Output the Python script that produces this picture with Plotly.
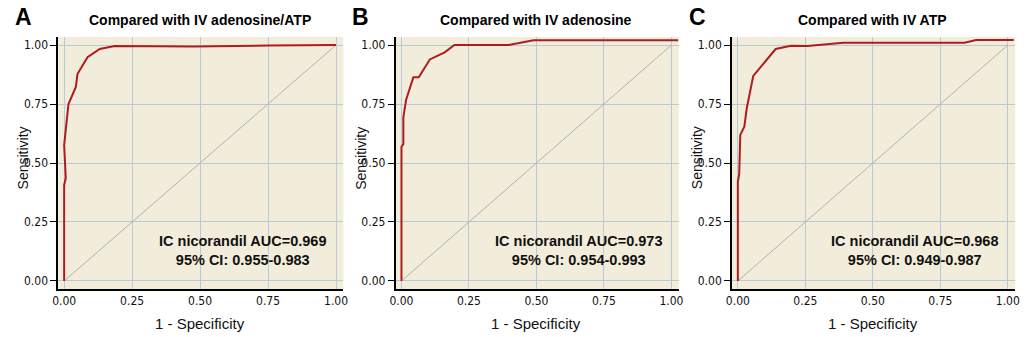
import plotly.graph_objects as go

# ---- data ----
panel_letters = ["A", "B", "C"]
titles = ["Compared with IV adenosine/ATP", "Compared with IV adenosine", "Compared with IV ATP"]
auc_text = ["IC nicorandil AUC=0.969<br>95% CI: 0.955-0.983",
            "IC nicorandil AUC=0.973<br>95% CI: 0.954-0.993",
            "IC nicorandil AUC=0.968<br>95% CI: 0.949-0.987"]

a_fpr = [0.0, 0.0, 0.006, 0.0, 0.016, 0.043, 0.049, 0.086, 0.131, 0.186, 0.33, 0.478, 0.75, 1.0]
a_tpr = [0.0, 0.407, 0.436, 0.576, 0.75, 0.822, 0.877, 0.948, 0.983, 0.996, 0.995, 0.994, 0.998, 1.0]

b_fpr = [0.0, 0.0, 0.007, 0.007, 0.017, 0.044, 0.064, 0.105, 0.16, 0.196, 0.397, 0.489, 1.025]
b_tpr = [0.0, 0.569, 0.58, 0.694, 0.767, 0.863, 0.863, 0.939, 0.969, 1.0, 1.0, 1.02, 1.02]

c_fpr = [0.0, 0.0, 0.005, 0.009, 0.024, 0.033, 0.057, 0.14, 0.197, 0.257, 0.391, 0.84, 0.882, 1.022]
c_tpr = [0.0, 0.42, 0.453, 0.619, 0.654, 0.732, 0.869, 0.983, 0.997, 0.996, 1.01, 1.01, 1.021, 1.021]

ref_x = [0, 1]
ref_y = [0, 1]

tick_vals = [0, 0.25, 0.5, 0.75, 1.0]
tick_text = ["0.00", "0.25", "0.50", "0.75", "1.00"]

# ---- style ----
W, H = 1033, 337
BG = "#f2eddb"
GRID = "#b9cad6"
CURVE = "#b01c1e"
COND = "'Liberation Sans Narrow', 'DejaVu Sans Condensed', 'Roboto Condensed', Roboto, 'Liberation Sans', sans-serif"
SANS = "'Liberation Sans', Arial, sans-serif"
x_domains = [[53 / W, 341 / W], [394 / W, 680 / W], [734 / W, 1020 / W]]
y_domain = [1 - 289 / H, 1 - 37 / H]

fig = go.Figure()
series = [(a_fpr, a_tpr), (b_fpr, b_tpr), (c_fpr, c_tpr)]
layout = {}
annotations = []
for i, (fx, fy) in enumerate(series):
    n = "" if i == 0 else str(i + 1)
    xa, ya = "x" + n, "y" + n
    fig.add_trace(go.Scatter(x=ref_x, y=ref_y, mode="lines", xaxis=xa, yaxis=ya,
                             line=dict(color="#b0b0b0", width=1), showlegend=False, hoverinfo="skip"))
    fig.add_trace(go.Scatter(x=fx, y=fy, mode="lines", xaxis=xa, yaxis=ya,
                             line=dict(color=CURVE, width=2), showlegend=False))
    layout["xaxis" + n] = dict(domain=x_domains[i], range=[-0.021, 1.027], anchor=ya,
                               tickvals=tick_vals, ticktext=tick_text, showgrid=True, gridcolor=GRID,
                               gridwidth=1, zeroline=False, showline=True, linecolor="black", linewidth=2,
                               ticks="", tickfont=dict(family=COND, size=12, color="#111"))
    layout["yaxis" + n] = dict(domain=y_domain, range=[-0.034, 1.034], anchor=xa,
                               tickvals=tick_vals, ticktext=tick_text, showgrid=True, gridcolor=GRID,
                               gridwidth=1, zeroline=False, showline=True, linecolor="black", linewidth=2,
                               ticks="outside", ticklen=6, tickwidth=1, tickcolor="black",
                               tickfont=dict(family=COND, size=12, color="#111"))
    dx = xa + " domain"
    dy = ya + " domain"
    annotations += [
        dict(text="<b>" + panel_letters[i] + "</b>", xref=dx, yref=dy, x=0, y=1, xshift=-35, yshift=20,
             showarrow=False, xanchor="center", yanchor="middle",
             font=dict(family=SANS, size=23, color="black")),
        dict(text="<b>" + titles[i] + "</b>", xref=xa, yref=dy, x=0.5, y=1, yshift=17,
             showarrow=False, xanchor="center", yanchor="middle",
             font=dict(family=SANS, size=14, color="black")),
        dict(text="<b>" + auc_text[i] + "</b>", xref=xa, yref=ya, x=0.655, y=0.131,
             showarrow=False, xanchor="center", yanchor="middle", align="center",
             font=dict(family=SANS, size=14.5, color="#111")),
        dict(text="Sensitivity", xref=dx, yref=dy, x=0, y=0.5, xshift=-35, yshift=5, textangle=-90,
             showarrow=False, xanchor="center", yanchor="middle",
             font=dict(family=SANS, size=14, color="#111")),
        dict(text="1 - Specificity", xref=xa, yref=dy, x=0.5, y=0, yshift=-34,
             showarrow=False, xanchor="center", yanchor="middle",
             font=dict(family=SANS, size=15, color="#111")),
    ]

fig.update_layout(width=W, height=H, margin=dict(l=0, r=0, t=0, b=0),
                  paper_bgcolor="white", plot_bgcolor=BG, annotations=annotations, **layout)
fig.write_html("out.html")
